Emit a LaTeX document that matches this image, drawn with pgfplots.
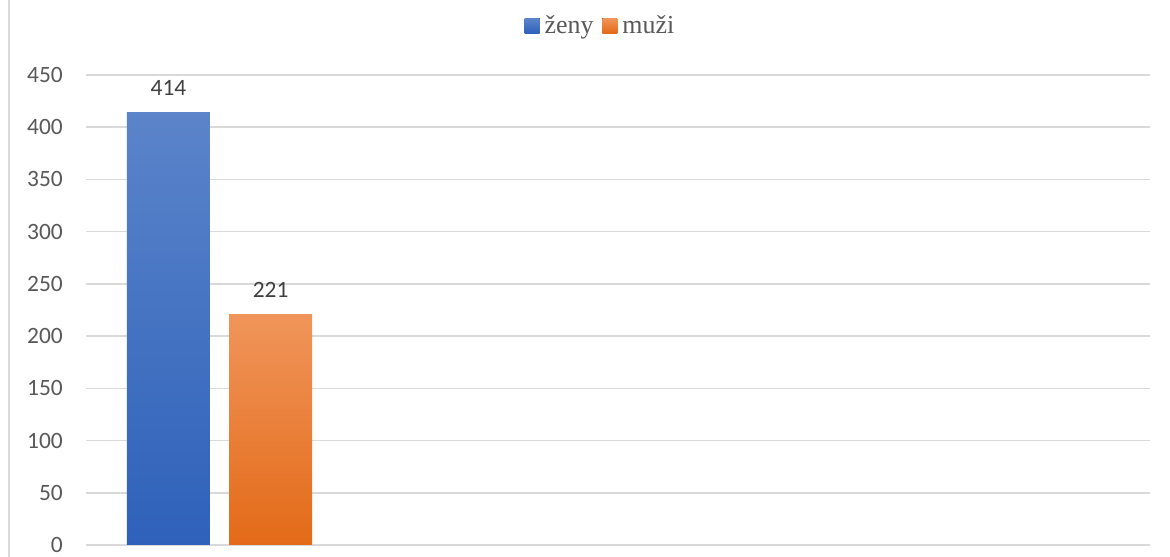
\documentclass[border=0pt]{standalone}
\usepackage{pgfplots}
\pgfplotsset{compat=1.18}
\usepackage{fontspec}
\setmainfont{Carlito}
\newfontfamily\legfont{Liberation Serif}
\definecolor{gridc}{HTML}{D9D9D9}
\definecolor{ticklab}{HTML}{595959}
\definecolor{datalab}{HTML}{404040}
\definecolor{bluetop}{HTML}{5B84CA}
\definecolor{bluebot}{HTML}{2E61BA}
\definecolor{orgtop}{HTML}{F0955A}
\definecolor{orgbot}{HTML}{E36A18}
\begin{document}
\begin{tikzpicture}
\fill[white] (0,0) rectangle (1170bp,557bp);
\path[use as bounding box] (0,0) rectangle (1170bp,557bp);
\draw[gridc, line width=1.5bp] (9bp,0) -- (9bp,557bp);
\begin{axis}[
  at={(86bp,12bp)}, anchor=south west,
  scale only axis, width=1064bp, height=470bp,
  xmin=0, xmax=4, ymin=0, ymax=450,
  ytick={0,50,...,450}, xtick=\empty,
  ymajorgrids, grid style={gridc, line width=1.5bp},
  axis line style={draw=none},
  major tick length=0pt,
  /pgf/number format/assume math mode=true,
  yticklabel style={font=\fontsize{23.5}{28}\selectfont, text=ticklab, inner sep=0pt, xshift=-23bp},
  legend style={at={(0.483,1.106)}, anchor=center, draw=none, fill=none,
    legend columns=2, font=\legfont\fontsize{26}{30}\selectfont, text=ticklab,
    /tikz/every odd column/.append style={column sep=4bp},
    /tikz/every even column/.append style={column sep=8bp},
    nodes={inner sep=1bp}},
  legend image code/.code={\fill[#1] (0bp,-8bp) rectangle (15bp,7bp);},
  clip=false,
]
\addplot[ybar, bar width=83bp, bar shift=0pt, draw=none, top color=bluetop, bottom color=bluebot]
  coordinates {(0.310,414)};
\addlegendentry{ženy}
\addplot[ybar, bar width=83bp, bar shift=0pt, draw=none, top color=orgtop, bottom color=orgbot]
  coordinates {(0.694,221)};
\addlegendentry{muži}
\addplot[forget plot, only marks, mark=none, nodes near coords,
  every node near coord/.append style={font=\fontsize{23.5}{28}\selectfont, text=datalab, anchor=base, yshift=17bp, inner sep=0pt}]
  coordinates {(0.310,414) (0.694,221)};
\end{axis}
\end{tikzpicture}
\end{document}
